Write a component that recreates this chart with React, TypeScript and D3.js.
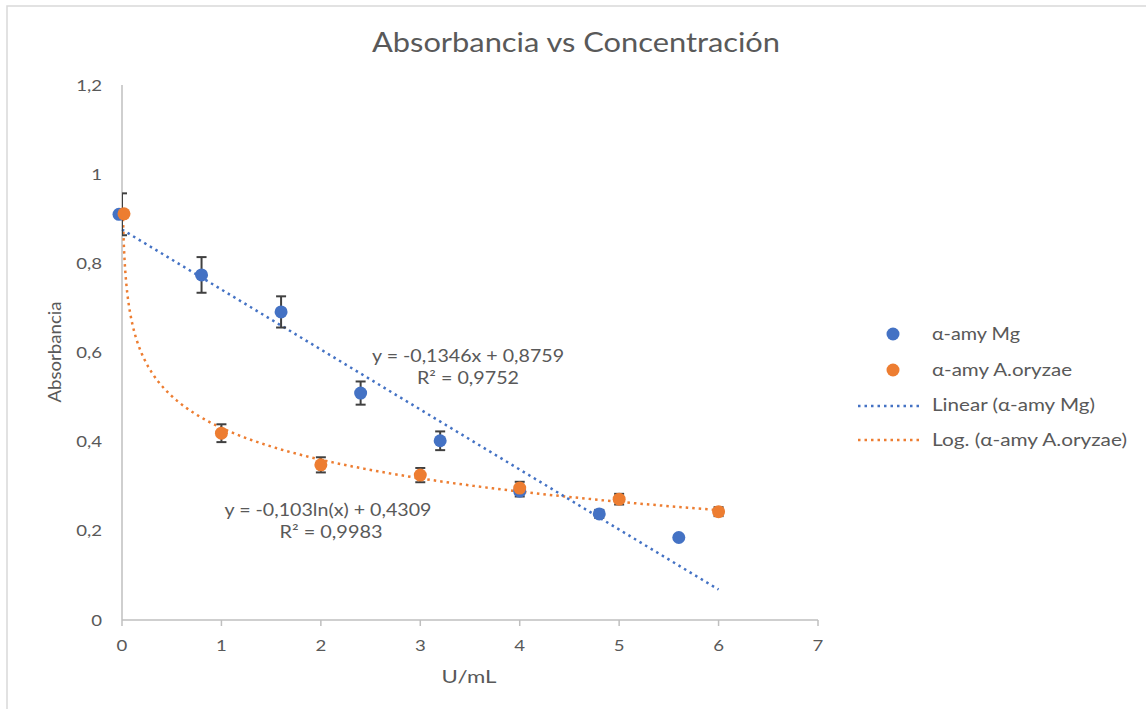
import React from "react";
import * as d3 from "d3";

const mgX = [0, 0.8, 1.6, 2.4, 3.2, 4.0, 4.8, 5.6];
const mgY = [0.91, 0.774, 0.691, 0.509, 0.402, 0.289, 0.238, 0.185];
const mgErr = [0.047, 0.04, 0.035, 0.026, 0.021, 0.012, 0.009, 0.005];

const orX = [0.02, 1, 2, 3, 4, 5, 6];
const orY = [0.911, 0.419, 0.348, 0.325, 0.296, 0.271, 0.243];
const orErr = [0.004, 0.02, 0.017, 0.016, 0.014, 0.012, 0.01];

const linSlope = -0.1346;
const linIntercept = 0.8759;
const logCoef = -0.103;
const logIntercept = 0.4309;

const xTicks = [0, 1, 2, 3, 4, 5, 6, 7];
const yTicks = [0, 0.2, 0.4, 0.6, 0.8, 1, 1.2];

const legendLabels = ["α-amy Mg", "α-amy A.oryzae", "Linear (α-amy Mg)", "Log. (α-amy A.oryzae)"];
const legendWidths = [88, 140, 163, 195];

const BLUE = "#4472C4";
const ORANGE = "#ED7D31";
const TEXT = "#595959";
const FONT = "Lato, 'Open Sans', sans-serif";

export default function App() {
  const x = d3.scaleLinear().domain([0, 7]).range([122, 818]);
  const y = d3.scaleLinear().domain([0, 1.2]).range([620, 85]);
  const fmt = (v: number) => String(Math.round(v * 10) / 10).replace(".", ",");

  const linPts: [number, number][] = [0, 6].map((v) => [v, linSlope * v + linIntercept]);
  const logXs = d3.range(0, 121).map((i) => 0.0105 * Math.pow(6 / 0.0105, i / 120));
  const logPts: [number, number][] = logXs.map((v) => [v, logCoef * Math.log(v) + logIntercept]);
  const line = d3.line<[number, number]>().x((d) => x(d[0])).y((d) => y(d[1]));

  const errBars = (xs: number[], ys: number[], es: number[], key: string) =>
    xs.map((xv, i) => {
      const cx = x(xv);
      const y1 = y(ys[i] + es[i]);
      const y2 = y(ys[i] - es[i]);
      return (
        <g key={key + i} stroke="#404040" strokeWidth={2} clipPath="url(#plotclip)">
          <line x1={cx} x2={cx} y1={y1} y2={y2} />
          <line x1={cx - 5} x2={cx + 5} y1={y1} y2={y1} />
          <line x1={cx - 5} x2={cx + 5} y1={y2} y2={y2} />
        </g>
      );
    });

  const st = (tx: number, ty: number, s = 1.2) => `translate(${tx},${ty}) scale(${s},1)`;

  return (
    <svg width={1146} height={709} style={{ position: "absolute", left: 0, top: 0, background: "#fff" }} fontFamily={FONT}>
      <defs>
        <clipPath id="plotclip">
          <rect x={122} y={60} width={720} height={580} />
        </clipPath>
      </defs>
      <rect x={7} y={6} width={1160} height={720} fill="#fff" stroke="#d9d9d9" strokeWidth={1.5} />
      <text x={576} y={52} textAnchor="middle" fontSize={26} fill={TEXT} textLength={408} lengthAdjust="spacingAndGlyphs">Absorbancia vs Concentración</text>

      {/* axes */}
      <line x1={122} x2={122} y1={85} y2={620} stroke="#bfbfbf" strokeWidth={1.5} />
      <line x1={122} x2={818} y1={620} y2={620} stroke="#bfbfbf" strokeWidth={1.5} />
      {xTicks.map((t) => (
        <g key={"xt" + t}>
          <line x1={x(t)} x2={x(t)} y1={620} y2={626} stroke="#bfbfbf" strokeWidth={1.5} />
          <text transform={st(x(t), 651)} textAnchor="middle" fontSize={15.5} fill={TEXT}>{t}</text>
        </g>
      ))}
      {yTicks.map((t) => (
        <text key={"yt" + t} transform={st(102, y(t) + 5.5)} textAnchor="end" fontSize={15.5} fill={TEXT}>{fmt(t)}</text>
      ))}
      <text x={469} y={683} textAnchor="middle" fontSize={17} fill={TEXT} textLength={55} lengthAdjust="spacingAndGlyphs">U/mL</text>
      <text transform="translate(61,352) rotate(-90)" textAnchor="middle" fontSize={17} fill={TEXT} textLength={101} lengthAdjust="spacingAndGlyphs">Absorbancia</text>

      {/* trendlines */}
      <path d={line(logPts) || ""} fill="none" stroke={ORANGE} strokeWidth={2.5} strokeDasharray="2.5,4" />
      <path d={line(linPts) || ""} fill="none" stroke={BLUE} strokeWidth={2.5} strokeDasharray="2.5,4" />

      {/* error bars */}
      {errBars(mgX, mgY, mgErr, "me")}
      {errBars(orX, orY, orErr, "oe")}

      {/* markers */}
      {mgX.map((xv, i) => (
        <circle key={"m" + i} cx={x(xv) - (i === 0 ? 3 : 0)} cy={y(mgY[i])} r={6.5} fill={BLUE} />
      ))}
      {orX.map((xv, i) => (
        <circle key={"o" + i} cx={x(xv)} cy={y(orY[i])} r={6.5} fill={ORANGE} />
      ))}

      {/* equations */}
      <text x={468} y={362} textAnchor="middle" fontSize={17} fill={TEXT} textLength={192} lengthAdjust="spacingAndGlyphs">y = -0,1346x + 0,8759</text>
      <text x={468} y={384} textAnchor="middle" fontSize={17} fill={TEXT} textLength={102} lengthAdjust="spacingAndGlyphs">R² = 0,9752</text>
      <text x={328} y={516} textAnchor="middle" fontSize={17} fill={TEXT} textLength={207} lengthAdjust="spacingAndGlyphs">y = -0,103ln(x) + 0,4309</text>
      <text x={331} y={538} textAnchor="middle" fontSize={17} fill={TEXT} textLength={103} lengthAdjust="spacingAndGlyphs">R² = 0,9983</text>

      {/* legend */}
      <circle cx={893} cy={334} r={6.5} fill={BLUE} />
      <circle cx={893} cy={370} r={6.5} fill={ORANGE} />
      <line x1={858} x2={921} y1={406} y2={406} stroke={BLUE} strokeWidth={2.5} strokeDasharray="2.5,4" />
      <line x1={858} x2={921} y1={440} y2={440} stroke={ORANGE} strokeWidth={2.5} strokeDasharray="2.5,4" />
      {legendLabels.map((lab, i) => (
        <text key={"lg" + i} x={932} y={[340, 376, 411, 446][i]} fontSize={16.5} fill={TEXT} textLength={legendWidths[i]} lengthAdjust="spacingAndGlyphs">{lab}</text>
      ))}
    </svg>
  );
}
